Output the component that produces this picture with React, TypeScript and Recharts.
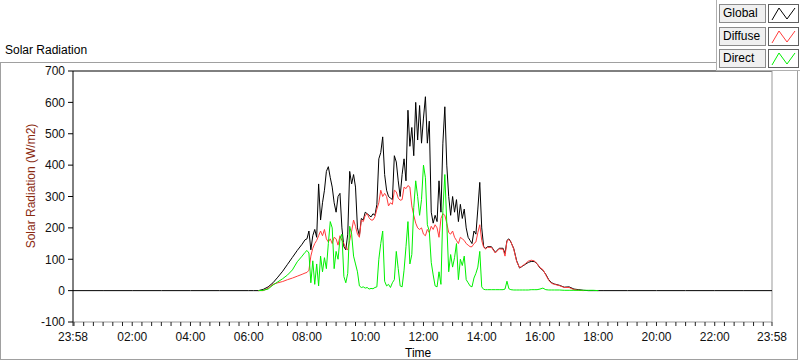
import React from 'react';
import { LineChart, Line, XAxis, YAxis, ReferenceLine } from 'recharts';

// sample times (first 23:58 belongs to the previous day)
const timeLabels = [
  '23:58', '01:00', '02:00', '03:00', '04:00', '05:00', '06:00', '06:10', '06:20', '06:30',
  '06:40', '06:50', '07:00', '07:10', '07:20', '07:30', '07:40', '07:50', '07:56',
  '08:00', '08:04', '08:08', '08:12', '08:16', '08:20', '08:24', '08:28', '08:32', '08:36', '08:40', '08:44', '08:48', '08:52', '08:56',
  '09:00', '09:04', '09:08', '09:12', '09:16', '09:20', '09:24', '09:28', '09:32', '09:36', '09:40', '09:44', '09:48', '09:52', '09:56',
  '10:00', '10:04', '10:08', '10:12', '10:16', '10:20', '10:24', '10:28', '10:32', '10:36', '10:40', '10:44', '10:48', '10:52', '10:56',
  '11:00', '11:04', '11:08', '11:12', '11:16', '11:20', '11:24', '11:28', '11:32', '11:36', '11:40', '11:44', '11:48', '11:52', '11:56',
  '12:00', '12:04', '12:08', '12:12', '12:16', '12:20', '12:24', '12:28', '12:32', '12:36', '12:40', '12:44', '12:48', '12:52', '12:56',
  '13:00', '13:04', '13:08', '13:12', '13:16', '13:20', '13:24', '13:28', '13:32', '13:36', '13:40', '13:44', '13:48', '13:52', '13:56',
  '14:00', '14:04', '14:08', '14:12',
  '14:20', '14:28', '14:36', '14:44', '14:48', '14:52', '14:56', '15:00', '15:06', '15:12',
  '15:18', '15:24', '15:30', '15:36', '15:42', '15:48', '15:54', '16:00', '16:06', '16:12',
  '16:18', '16:24', '16:30', '16:40', '16:50', '17:00', '17:10', '17:20', '17:30', '17:40',
  '17:50', '18:00', '18:10', '19:00', '20:00', '21:00', '22:00', '23:00', '23:58',
];

const globalRad = [
  0, 0, 0, 0, 0, 0, 0, 0, 0, 4,
  12, 25, 43, 62, 84, 106, 128, 148, 162,
  165, 190, 130, 175, 195, 170, 340, 225, 280, 320, 380, 395, 360, 330, 280,
  250, 300, 310, 200, 140, 130, 180, 380, 340, 370, 330, 200, 175, 230, 225,
  250, 245, 240, 235, 245, 240, 275, 420, 440, 490, 370, 320, 300, 295, 290,
  430, 410, 350, 300, 370, 420, 350, 575, 460, 520, 430, 600, 480, 590, 470,
  550, 618, 470, 540, 250, 215, 240, 220, 350, 250, 470, 586, 400, 300, 240,
  300, 250, 290, 220, 275, 230, 260, 200, 170, 160, 150, 190, 180, 260, 345,
  200, 140, 135, 140,
  140, 122, 135, 135, 118, 160, 165, 155, 134, 95,
  72, 78, 84, 90, 93, 93, 86, 72, 65, 52,
  35, 25, 21, 17, 11, 12, 5, 3, 1, 0,
  0, 0, 0, 0, 0, 0, 0, 0, 0,
];

const diffuseRad = [
  null, null, null, null, null, null, null, null, 0, 0,
  8, 20, 25, 29, 35, 40, 46, 52, 56,
  58, 65, 110, 135, 150, 160, 175, 190, 175, 195, 165, 155, 165, 150, 170,
  165, 145, 175, 160, 150, 135, 130, 160, 190, 225, 205, 180, 170, 225, 220,
  240, 245, 232, 225, 225, 235, 260, 280, 320, 300, 310, 300, 270, 280, 275,
  320, 315, 295, 288, 290, 330, 325, 335, 330, 270, 240, 215, 200, 195, 200,
  180, 175, 195, 185, 205, 195, 210, 200, 170, 230, 245, 240, 215, 185, 180,
  190, 170, 160, 150, 170, 165, 160, 150, 145, 140, 140, 150, 155, 185, 210,
  160, 138, 133, 138,
  138, 120, 133, 132, 110, 158, 163, 156, 132, 93,
  73, 79, 86, 94, 97, 95, 86, 73, 67, 50,
  33, 23, 20, 16, 10, 10, 3, 1, 0, null,
  null, null, null, null, null, null, null, null, null,
];

const directRad = [
  null, null, null, null, null, null, null, null, 0, 1,
  5, 18, 28, 38, 50, 66, 92, 110, 122,
  128, 120, 25, 95, 20, 85, 15, 110, 60, 105, 70, 150, 220, 200, 70,
  125, 100, 165, 180, 45, 25, 55, 205, 180, 110, 85, 60, 15, 10, 12,
  8, 10, 5, 7, 6, 10, 12, 100, 150, 190, 30, 15, 20, 10, 25,
  35, 125, 70, 15, 12, 65, 140, 220, 85, 115, 265, 350, 300, 240, 290,
  400, 360, 210, 190, 90, 50, 15, 12, 60, 20, 256, 370, 215, 60, 115,
  75, 105, 150, 35, 100, 80, 110, 35, 25, 15, 12, 40, 55, 75, 125,
  12, 4, 3, 3,
  3, 3, 3, 3, 5, 30, 6, 3, 2, 2,
  2, 2, 2, 2, 3, 3, 3, 5, 8, 3,
  2, 2, 2, 2, 1, 1, 1, 1, 1, 1,
  1, 0, null, null, null, null, null, null, null,
];

const yTicks = [-100, 0, 100, 200, 300, 400, 500, 600, 700];
const xLabelTicks = ['23:58', '02:00', '04:00', '06:00', '08:00', '10:00', '12:00', '14:00', '16:00', '18:00', '20:00', '22:00', '23:58'];

const series = [
  { key: 'global', name: 'Global', color: '#000000' },
  { key: 'diffuse', name: 'Diffuse', color: '#ff3c3c' },
  { key: 'direct', name: 'Direct', color: '#00f000' },
];

const FONT = '"Liberation Sans", Arial, sans-serif';

// minutes on the axis, counted from 23:58 of the previous day
function axisMinutes(t: string, i: number) {
  const [h, m] = t.split(':').map(Number);
  let v = h * 60 + m;
  if (i === 0) v -= 1440;
  return v + 2;
}

const rows = timeLabels.map((t, i) => ({
  m: axisMinutes(t, i),
  global: globalRad[i],
  diffuse: diffuseRad[i],
  direct: directRad[i],
}));

// minor ticks every 20 min, labelled every 2 h
const xTicks = [0, ...Array.from({ length: 72 }, (_, k) => 2 + 20 * k), 1440];
const labelFor = (v: number) => {
  if (v === 0) return xLabelTicks[0];
  if (v === 1440) return xLabelTicks[xLabelTicks.length - 1];
  if (v > 2 && (v - 2) % 120 === 0) return xLabelTicks[(v - 2) / 120];
  return '';
};

function LegendBox() {
  return (
    <div style={{ position: 'absolute', left: 716, top: 0, width: 84, height: 71, background: '#fff', borderLeft: '1px solid #b0b0b0', borderBottom: '1px solid #b0b0b0', boxSizing: 'border-box' }}>
      {series.map((s, i) => (
        <div key={s.key} style={{ position: 'absolute', top: 4 + i * 22.5, left: 2, height: 19, width: 80 }}>
          <div style={{ position: 'absolute', left: 0, top: 0, width: 47, height: 19, background: '#f0f0f0', border: '1px solid #8c8c8c', boxSizing: 'border-box', fontSize: 12, lineHeight: '17px', paddingLeft: 3, color: '#000' }}>
            {s.name}
          </div>
          <div style={{ position: 'absolute', left: 49, top: 0, width: 31, height: 19, background: '#fff', border: '1px solid #606060', boxSizing: 'border-box' }}>
            <svg width={29} height={17}>
              <polyline points="3,15 10,3 18,14 26,3" fill="none" stroke={s.color} strokeWidth={1} />
            </svg>
          </div>
        </div>
      ))}
    </div>
  );
}

export default function App() {
  return (
    <div style={{ position: 'absolute', left: 0, top: 0, width: 800, height: 361, background: '#fff', fontFamily: FONT, overflow: 'hidden' }}>
      <div style={{ position: 'absolute', left: 0, top: 62, width: 798, height: 298, border: '1px solid #a0a0a0', boxSizing: 'border-box' }} />
      <div style={{ position: 'absolute', left: 5, top: 43, fontSize: 12, color: '#000' }}>Solar Radiation</div>
      <div style={{ position: 'absolute', left: 0, top: 0 }}>
        <LineChart width={800} height={361} data={rows} margin={{ top: 71, right: 28, bottom: 9, left: 28 }}>
          <XAxis
            type="number"
            dataKey="m"
            domain={[0, 1440]}
            ticks={xTicks}
            interval={0}
            tickFormatter={labelFor}
            height={30}
            axisLine={{ stroke: '#999' }}
            tickLine={{ stroke: '#222' }}
            tickSize={4}
            tickMargin={6}
            tick={{ fill: '#111', fontSize: 12, fontFamily: FONT }}
            allowDataOverflow
          />
          <YAxis
            type="number"
            domain={[-100, 700]}
            ticks={yTicks}
            interval={0}
            width={45}
            axisLine={{ stroke: '#000' }}
            tickLine={{ stroke: '#000' }}
            tickSize={5}
            tickMargin={3}
            tick={{ fill: '#111', fontSize: 12, fontFamily: FONT }}
            allowDataOverflow
          />
          <ReferenceLine y={700} stroke="#000" />
          <ReferenceLine x={1440} stroke="#999" />
          {series.map((s) => (
            <Line
              key={s.key}
              type="linear"
              dataKey={s.key}
              name={s.name}
              stroke={s.color}
              strokeWidth={1}
              dot={false}
              activeDot={false}
              isAnimationActive={false}
            />
          ))}
        </LineChart>
      </div>
      <div style={{ position: 'absolute', left: 31, top: 186, transform: 'translate(-50%, -50%) rotate(-90deg)', whiteSpace: 'nowrap', fontSize: 12, color: '#8a2a10' }}>
        Solar Radiation (W/m2)
      </div>
      <div style={{ position: 'absolute', left: 405, top: 346, fontSize: 12, color: '#000' }}>Time</div>
      <LegendBox />
    </div>
  );
}
